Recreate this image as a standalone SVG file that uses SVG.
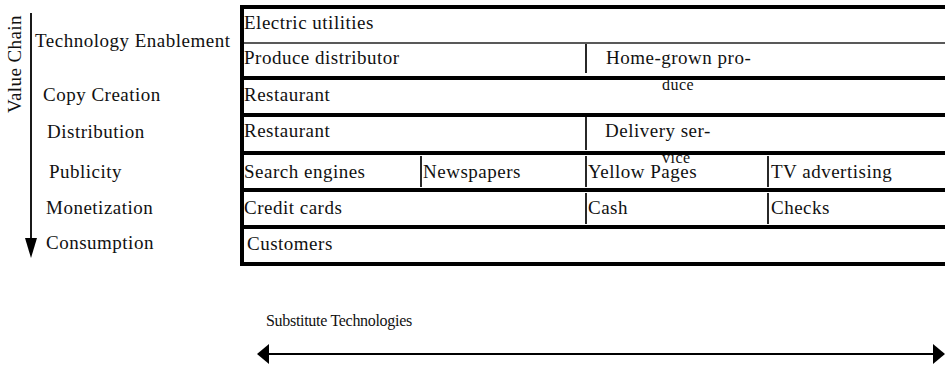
<svg xmlns="http://www.w3.org/2000/svg" width="945" height="366" viewBox="0 0 945 366">
  <style>
    text { font-family: "Liberation Serif", "Times New Roman", serif; fill: #111; }
    .cell { font-size: 19px; letter-spacing: 0.5px; }
    .stage { font-size: 19px; letter-spacing: 0.5px; }
    .axis { font-size: 19px; letter-spacing: 0.4px; }
    .sub { font-size: 16px; letter-spacing: -0.3px; }
    .rule { stroke: #000; stroke-width: 4; }
    .thin { stroke: #222; stroke-width: 1.5; }
    .div { stroke: #111; stroke-width: 1.8; }
    .arrow { stroke: #000; stroke-width: 1.8; fill: none; }
  </style>
  <defs>
    <marker id="head" viewBox="0 0 12 20" refX="11" refY="10" markerWidth="12" markerHeight="20" markerUnits="userSpaceOnUse" orient="auto-start-reverse">
      <path d="M0,0 L12,10 L0,20 Z" fill="#000"/>
    </marker>
  </defs>

  <rect width="945" height="366" fill="#fff"/>

  <!-- value chain axis on the left -->
  <g id="value-chain-axis">
    <text class="axis" transform="translate(21,113) rotate(-90)">Value Chain</text>
    <line class="arrow" x1="31" y1="13" x2="31" y2="244"/>
    <path d="M25,238 L37,238 L31,258 Z" fill="#000"/>
  </g>

  <!-- stage labels -->
  <g id="stages">
    <text class="stage" x="35" y="47">Technology Enablement</text>
    <text class="stage" x="43" y="101">Copy Creation</text>
    <text class="stage" x="47" y="138">Distribution</text>
    <text class="stage" x="49" y="178">Publicity</text>
    <text class="stage" x="46" y="214">Monetization</text>
    <text class="stage" x="46" y="249">Consumption</text>
  </g>

  <!-- table cells -->
  <g id="row-technology">
    <text class="cell" x="244" y="29">Electric utilities</text>
    <text class="cell" x="244" y="64">Produce distributor</text>
    <text class="cell" x="606" y="64">Home-grown pro-</text>
    <text class="cell" x="662" y="90" style="font-size:16px">duce</text>
  </g>
  <g id="row-copy">
    <text class="cell" x="244" y="101">Restaurant</text>
  </g>
  <g id="row-distribution">
    <text class="cell" x="244" y="137">Restaurant</text>
    <text class="cell" x="605" y="137">Delivery ser-</text>
    <text class="cell" x="662" y="163" style="font-size:16px">vice</text>
  </g>
  <g id="row-publicity">
    <text class="cell" x="244" y="178">Search engines</text>
    <text class="cell" x="423" y="178">Newspapers</text>
    <text class="cell" x="588" y="178">Yellow Pages</text>
    <text class="cell" x="771" y="178">TV advertising</text>
  </g>
  <g id="row-monetization">
    <text class="cell" x="244" y="214">Credit cards</text>
    <text class="cell" x="588" y="214">Cash</text>
    <text class="cell" x="771" y="214">Checks</text>
  </g>
  <g id="row-consumption">
    <text class="cell" x="247" y="250">Customers</text>
  </g>

  <!-- table rules and cell dividers -->
  <g id="grid">
    <line class="rule" x1="242" y1="5" x2="242" y2="266"/>
    <line class="rule" x1="240" y1="7" x2="945" y2="7"/>
    <line class="thin" x1="244" y1="43" x2="945" y2="43"/>
    <line class="rule" x1="240" y1="78" x2="945" y2="78"/>
    <line class="rule" x1="240" y1="115" x2="945" y2="115"/>
    <line class="rule" x1="240" y1="153" x2="945" y2="153"/>
    <line class="rule" x1="240" y1="190" x2="945" y2="190"/>
    <line class="rule" x1="240" y1="227" x2="945" y2="227"/>
    <line class="rule" x1="240" y1="264" x2="945" y2="264"/>
    <line class="div" x1="586" y1="44" x2="586" y2="73"/>
    <line class="div" x1="586" y1="117" x2="586" y2="150"/>
    <line class="div" x1="421" y1="156" x2="421" y2="187"/>
    <line class="div" x1="586" y1="156" x2="586" y2="187"/>
    <line class="div" x1="768" y1="156" x2="768" y2="187"/>
    <line class="div" x1="586" y1="193" x2="586" y2="224"/>
    <line class="div" x1="768" y1="193" x2="768" y2="224"/>
  </g>

  <!-- substitute technologies axis -->
  <g id="substitutes">
    <text class="sub" x="266" y="326">Substitute Technologies</text>
  </g>
  <g id="connectors">
    <line class="arrow" x1="258" y1="354" x2="944" y2="354" marker-start="url(#head)" marker-end="url(#head)"/>
  </g>
</svg>
